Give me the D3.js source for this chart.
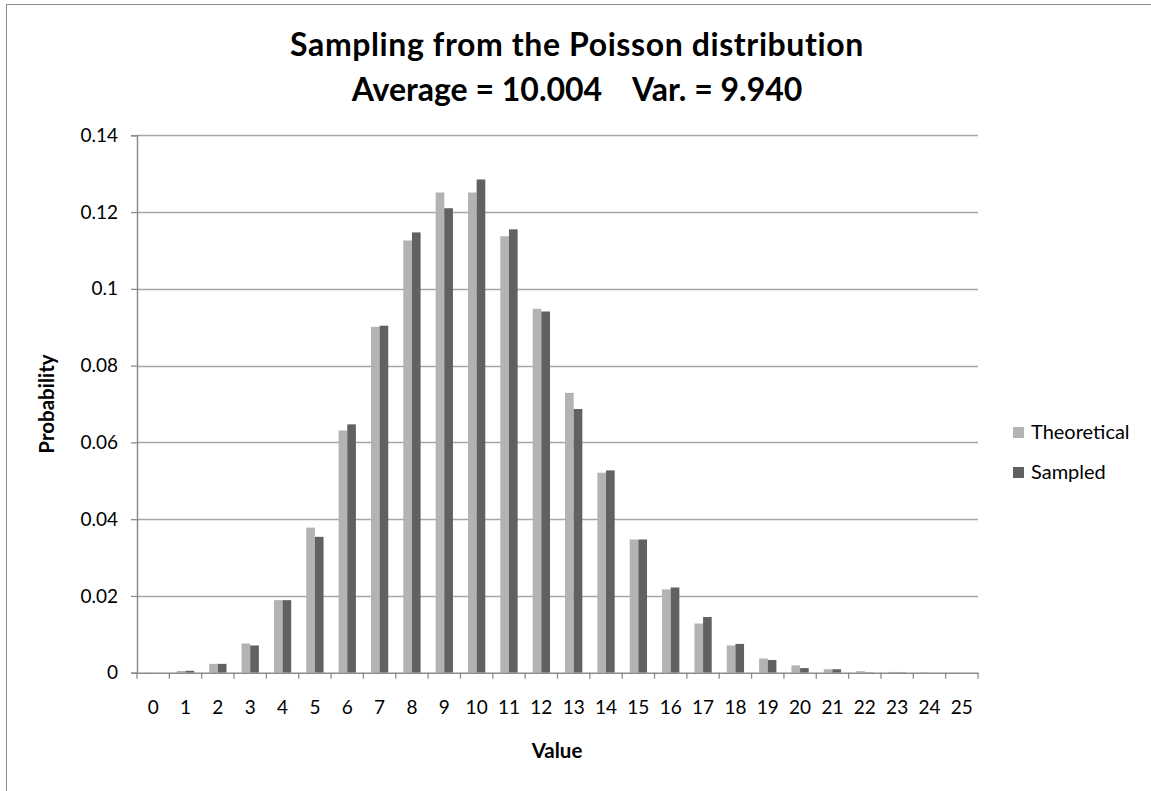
<!DOCTYPE html>
<html><head><meta charset="utf-8">
<script src="https://cdn.jsdelivr.net/npm/d3@7"></script>
<style>
html,body{margin:0;padding:0;background:#fff;}
svg{display:block;font-family:Lato,"Open Sans",sans-serif;}
</style></head>
<body>
<svg id="chart" width="1151" height="791"></svg>
<script>
const categories = ["0","1","2","3","4","5","6","7","8","9","10","11","12","13","14","15","16","17","18","19","20","21","22","23","24","25"];
const theoretical = [0.00005,0.00045,0.0023,0.0076,0.0189,0.0378,0.0631,0.0901,0.1126,0.1251,0.1251,0.1137,0.0948,0.0729,0.0521,0.0347,0.0217,0.0128,0.0071,0.0037,0.0019,0.0009,0.0004,0.0002,0.0001,0.00003];
const sampled = [0.0000,0.0005,0.0023,0.0071,0.0189,0.0354,0.0647,0.0904,0.1147,0.1210,0.1285,0.1155,0.0941,0.0687,0.0527,0.0347,0.0222,0.0145,0.0075,0.0033,0.0012,0.0009,0.0001,0.0001,0.0000,0.0000];
const seriesNames = ["Theoretical","Sampled"];
const seriesColors = ["#b3b3b3","#616161"];
const yTicks = [0,0.02,0.04,0.06,0.08,0.1,0.12,0.14];
const titleLines = ["Sampling from the Poisson distribution","Average = 10.004    Var. = 9.940"];
const xTitle = "Value", yTitle = "Probability";

const svg = d3.select("#chart");
const L = 137, R = 978, T = 135.3, B = 672.7;

svg.append("rect").attr("x",6.5).attr("y",4.5).attr("width",1200).attr("height",800)
  .attr("fill","none").attr("stroke","#8c8c8c").attr("stroke-width",1);

const x0 = d3.scaleBand().domain(categories).range([L,R]).paddingInner(0).paddingOuter(0);
const groupW = x0.bandwidth()*0.535;
const x1 = d3.scaleBand().domain(seriesNames).range([0,groupW]);
const y = d3.scaleLinear().domain([0,0.14]).range([B,T]);

// gridlines
svg.append("g").selectAll("line").data(yTicks.filter(d=>d>0)).join("line")
  .attr("x1",L).attr("x2",R).attr("y1",d=>Math.round(y(d))+0.5).attr("y2",d=>Math.round(y(d))+0.5)
  .attr("stroke","#a6a6a6").attr("stroke-width",1.3);

// bars
const data = categories.map((c,i)=>({c, vals:[theoretical[i],sampled[i]]}));
const g = svg.append("g").selectAll("g").data(data).join("g")
  .attr("transform",d=>`translate(${x0(d.c)+(x0.bandwidth()-groupW)/2},0)`);
g.selectAll("rect").data(d=>d.vals.map((v,j)=>({v,s:seriesNames[j],j}))).join("rect")
  .attr("x",d=>x1(d.s)).attr("width",x1.bandwidth())
  .attr("y",d=>y(d.v)).attr("height",d=>B-y(d.v))
  .attr("fill",d=>seriesColors[d.j]);

// y axis
const yAxis = d3.axisLeft(y).tickValues(yTicks).tickSize(6).tickPadding(13)
  .tickFormat(d=>d===0?"0":String(+d.toFixed(2)));
const ya = svg.append("g").attr("transform",`translate(${L},0)`).call(yAxis);
ya.select(".domain").attr("stroke","#8c8c8c").attr("stroke-width",1.5);
ya.selectAll(".tick line").attr("stroke","#8c8c8c").attr("stroke-width",1.3);
ya.selectAll(".tick text").attr("font-size",19).attr("fill","#000").attr("font-family","Lato");

// x axis
const xAxis = d3.axisBottom(x0).tickSize(0).tickPadding(28);
const xa = svg.append("g").attr("transform",`translate(0,${B})`).call(xAxis);
xa.select(".domain").attr("stroke","#8c8c8c").attr("stroke-width",1.5);
xa.selectAll(".tick text").attr("font-size",19).attr("fill","#000").attr("font-family","Lato");
// category boundary ticks
const bounds = categories.map(c=>x0(c)).concat([R]);
xa.append("g").selectAll("line").data(bounds).join("line")
  .attr("x1",d=>d).attr("x2",d=>d).attr("y1",0).attr("y2",6)
  .attr("stroke","#8c8c8c").attr("stroke-width",1.3);

// titles
svg.append("g").selectAll("text").data(titleLines).join("text")
  .attr("x",577).attr("y",(d,i)=>56+i*45)
  .attr("text-anchor","middle").attr("font-weight","bold").attr("font-size",32)
  .attr("letter-spacing",(d,i)=>i===0?0.6:0)
  .style("white-space","pre").attr("xml:space","preserve")
  .text(d=>d);

svg.append("text").attr("x",557).attr("y",758).attr("text-anchor","middle")
  .attr("font-weight","bold").attr("font-size",20.5).text(xTitle);
svg.append("text").attr("transform","translate(54,404) rotate(-90)").attr("text-anchor","middle")
  .attr("font-weight","bold").attr("font-size",20.5).text(yTitle);

// legend
const lg = svg.append("g").selectAll("g").data(seriesNames).join("g")
  .attr("transform",(d,i)=>`translate(1013,${427+i*40})`);
lg.append("rect").attr("width",11).attr("height",11).attr("fill",(d,i)=>seriesColors[i]);
lg.append("text").attr("x",18).attr("y",11.5).attr("font-size",20).text(d=>d);
</script>
</body></html>
